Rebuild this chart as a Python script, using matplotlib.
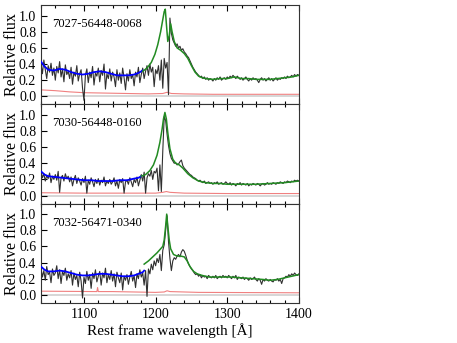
import numpy as np
import matplotlib
matplotlib.use("Agg")
import matplotlib.pyplot as plt
from matplotlib.ticker import MultipleLocator

plt.rcParams['font.family'] = ['Liberation Serif', 'DejaVu Serif']
plt.rcParams['mathtext.fontset'] = 'stix'

# observed spectra, 2 A grid from 1040 to 1400
wave = np.arange(1040, 1401, 2)

names = ["7027-56448-0068", "7030-56448-0160", "7032-56471-0340"]

flux_0068 = [
    0.40, 0.28, 0.45, 0.33, 0.22, 0.38, 0.30, 0.41, 0.26, 0.35,
    0.20, 0.37, 0.29, 0.43, 0.24, 0.34, 0.18, 0.39, 0.27, 0.31,
    0.22, 0.36, 0.15, 0.30, 0.25, 0.38, 0.19, 0.28, 0.33, 0.10,
    -0.05, 0.26, 0.34, 0.17, 0.30, 0.23, 0.37, 0.14, 0.29, 0.25,
    0.35, 0.18, 0.32, 0.26, 0.40, 0.09, 0.28, 0.22, 0.34, 0.19,
    0.30, 0.24, 0.12, 0.33, 0.20, 0.29, 0.16, 0.35, 0.23, 0.08,
    0.28, 0.19, 0.33, 0.22, 0.27, 0.13, 0.30, 0.24, 0.36, 0.17,
    0.27, 0.35, 0.22, 0.31, 0.38, 0.26, 0.40, 0.30, 0.36, 0.12,
    0.33, 0.28, 0.38, 0.20, 0.45, 0.10, 0.47, 0.35, 0.42, 0.02,
    0.97, 0.78, 0.70, 0.66, 0.62, 0.65, 0.60, 0.62, 0.57, 0.59,
    0.55, 0.53, 0.50, 0.48, 0.44, 0.40, 0.36, 0.33, 0.30, 0.28,
    0.26, 0.24, 0.25, 0.22, 0.24, 0.21, 0.23, 0.20, 0.22, 0.21,
    0.19, 0.22, 0.20, 0.23, 0.21, 0.24, 0.20, 0.22, 0.23, 0.21,
    0.24, 0.22, 0.25, 0.23, 0.26, 0.24, 0.22, 0.25, 0.23, 0.21,
    0.23, 0.20, 0.22, 0.24, 0.21, 0.19, 0.22, 0.20, 0.23, 0.21,
    0.22, 0.20, 0.17, 0.21, 0.23, 0.20, 0.22, 0.19, 0.21, 0.23,
    0.20, 0.22, 0.19, 0.21, 0.23, 0.20, 0.22, 0.21, 0.23, 0.22,
    0.24, 0.22, 0.25, 0.23, 0.24, 0.26, 0.24, 0.27, 0.25, 0.27,
    0.26]

flux_0160 = [
    0.30, 0.22, 0.27, 0.18, 0.25, 0.21, 0.28, 0.16, 0.24, 0.20,
    0.26, 0.19, 0.30, 0.04, 0.22, 0.25, 0.18, 0.27, 0.21, 0.24,
    0.17, 0.23, 0.12, 0.20, 0.25, 0.15, 0.22, 0.18, 0.13, 0.21,
    0.16, 0.24, 0.03, 0.19, 0.14, 0.22, 0.17, 0.11, 0.20, 0.15,
    0.21, 0.13, 0.19, 0.16, 0.23, 0.12, 0.18, 0.15, 0.20, 0.14,
    0.17, 0.22, 0.12, 0.18, 0.09, 0.20, 0.16, 0.21, 0.03, 0.17,
    0.19, 0.14, 0.22, 0.17, 0.11, 0.20, 0.16, 0.23, 0.12, 0.19,
    0.26, 0.18, 0.29, 0.03, 0.22, 0.27, 0.24, 0.31, 0.20, 0.30,
    0.28, 0.34, 0.06, 0.38, 0.05, 0.55, 0.98, 0.93, 0.76, 0.62,
    0.52, 0.46, 0.43, 0.40, 0.41, 0.38, 0.39, 0.42, 0.44, 0.37,
    0.34, 0.32, 0.30, 0.28, 0.26, 0.25, 0.23, 0.22, 0.21, 0.19,
    0.18, 0.19, 0.17, 0.16, 0.18, 0.15, 0.16, 0.17, 0.15, 0.16,
    0.14, 0.16, 0.15, 0.17, 0.14, 0.15, 0.16, 0.14, 0.15, 0.17,
    0.15, 0.14, 0.16, 0.13, 0.15, 0.14, 0.12, 0.15, 0.14, 0.16,
    0.13, 0.15, 0.14, 0.13, 0.15, 0.12, 0.14, 0.13, 0.15, 0.14,
    0.13, 0.15, 0.14, 0.12, 0.14, 0.15, 0.13, 0.14, 0.16, 0.14,
    0.15, 0.14, 0.16, 0.15, 0.14, 0.16, 0.15, 0.17, 0.16, 0.15,
    0.17, 0.16, 0.18, 0.17, 0.16, 0.18, 0.17, 0.19, 0.18, 0.19,
    0.18]

flux_0340 = [
    0.33, 0.22, 0.30, 0.18, 0.35, 0.25, 0.28, 0.15, 0.32, 0.24,
    0.27, 0.36, 0.20, 0.31, 0.14, 0.29, 0.24, 0.33, 0.18, 0.26,
    0.21, 0.30, 0.12, 0.27, 0.19, 0.24, 0.10, 0.28, 0.17, -0.04,
    0.22, 0.14, 0.29, 0.18, 0.25, 0.08, 0.27, 0.20, 0.31, 0.16,
    0.23, 0.29, 0.12, 0.27, 0.21, 0.33, 0.15, 0.25, 0.19, 0.30,
    0.17, 0.26, 0.10, 0.28, 0.21, 0.15, 0.27, 0.06, 0.23, 0.18,
    0.25, 0.13, 0.22, 0.29, 0.17, 0.24, 0.09, 0.26, 0.20, 0.31,
    0.22, 0.27, 0.12, 0.30, -0.02, 0.32, 0.26, 0.38, 0.31, 0.42,
    0.36, 0.45, 0.40, 0.50, 0.30, 0.55, 0.62, 0.80, 0.98, 0.66,
    0.45, 0.30, 0.42, 0.46, 0.44, 0.48, 0.50, 0.47, 0.53, 0.56,
    0.54, 0.49, 0.43, 0.38, 0.35, 0.32, 0.30, 0.27, 0.25, 0.26,
    0.23, 0.25, 0.21, 0.24, 0.22, 0.23, 0.20, 0.24, 0.22, 0.21,
    0.23, 0.21, 0.24, 0.20, 0.22, 0.23, 0.21, 0.24, 0.22, 0.23,
    0.21, 0.24, 0.22, 0.20, 0.23, 0.21, 0.24, 0.19, 0.22, 0.21,
    0.20, 0.22, 0.19, 0.21, 0.20, 0.18, 0.21, 0.19, 0.20, 0.22,
    0.19, 0.17, 0.20, 0.18, 0.13, 0.19, 0.17, 0.20, 0.18, 0.17,
    0.19, 0.17, 0.16, 0.19, 0.18, 0.20, 0.17, 0.19, 0.14, 0.20,
    0.21, 0.23, 0.22, 0.25, 0.23, 0.26, 0.24, 0.27, 0.25, 0.24,
    0.26]

# noise spectra
err_wave_0068 = [1040, 1060, 1080, 1100, 1130, 1160, 1190, 1210, 1216, 1222, 1240, 1280, 1320, 1360, 1400]
err_0068 = [0.08, 0.07, 0.055, 0.045, 0.04, 0.035, 0.03, 0.035, 0.05, 0.035, 0.03, 0.025, 0.025, 0.025, 0.025]
err_wave_0160 = [1040, 1100, 1200, 1210, 1215, 1220, 1240, 1300, 1400]
err_0160 = [0.035, 0.03, 0.03, 0.04, 0.05, 0.04, 0.03, 0.025, 0.025]
err_wave_0340 = [1040, 1118, 1119, 1120, 1140, 1200, 1212, 1216, 1220, 1260, 1400]
err_0340 = [0.045, 0.04, 0.09, 0.04, 0.04, 0.03, 0.035, 0.05, 0.04, 0.03, 0.025]

# blue-side continuum fits
cont_wave_0068 = [1040, 1045, 1050, 1058, 1066, 1074, 1082, 1090, 1098, 1106, 1114, 1122, 1130, 1138, 1146, 1154, 1162, 1170, 1176, 1182]
cont_0068 = [0.43, 0.37, 0.33, 0.32, 0.34, 0.33, 0.30, 0.28, 0.27, 0.28, 0.30, 0.31, 0.30, 0.28, 0.26, 0.26, 0.26, 0.27, 0.29, 0.32]
cont_wave_0160 = [1040, 1045, 1050, 1060, 1070, 1080, 1090, 1100, 1110, 1120, 1130, 1140, 1150, 1160, 1170, 1176, 1180]
cont_0160 = [0.30, 0.26, 0.24, 0.23, 0.22, 0.21, 0.20, 0.19, 0.19, 0.18, 0.18, 0.18, 0.19, 0.19, 0.21, 0.22, 0.24]
cont_wave_0340 = [1040, 1045, 1050, 1058, 1066, 1074, 1082, 1090, 1098, 1106, 1114, 1122, 1130, 1138, 1146, 1154, 1162, 1170, 1176, 1182, 1184]
cont_0340 = [0.35, 0.31, 0.29, 0.29, 0.30, 0.29, 0.27, 0.25, 0.24, 0.24, 0.25, 0.26, 0.26, 0.25, 0.24, 0.23, 0.23, 0.24, 0.26, 0.28, 0.30]

# red-side fits
fit_wave_0068 = [1182, 1188, 1194, 1199, 1203, 1207, 1210, 1212, 1213.5, 1215, 1217, 1219, 1221, 1223, 1226, 1230, 1235, 1240,
                 1245, 1250, 1255, 1260, 1265, 1270, 1280, 1290, 1300, 1310, 1320, 1330, 1340, 1350, 1360, 1370, 1380, 1390, 1400]
fit_0068 = [0.31, 0.35, 0.42, 0.52, 0.64, 0.80, 0.95, 1.05, 1.08, 0.90, 0.68, 0.75, 0.90, 0.80, 0.68, 0.60, 0.57, 0.53,
            0.47, 0.38, 0.30, 0.25, 0.23, 0.22, 0.21, 0.22, 0.22, 0.24, 0.22, 0.22, 0.21, 0.21, 0.21, 0.22, 0.23, 0.24, 0.26]
fit_wave_0160 = [1180, 1186, 1192, 1197, 1202, 1206, 1209, 1211, 1213, 1215, 1217, 1220, 1224, 1228, 1233, 1238, 1245,
                 1252, 1260, 1270, 1280, 1290, 1300, 1320, 1340, 1360, 1380, 1400]
fit_0160 = [0.24, 0.26, 0.31, 0.38, 0.50, 0.66, 0.82, 0.95, 1.03, 0.95, 0.78, 0.58, 0.45, 0.40, 0.38, 0.34, 0.27,
            0.22, 0.18, 0.16, 0.15, 0.15, 0.14, 0.14, 0.14, 0.15, 0.16, 0.18]
fit_wave_0340 = [1184, 1190, 1196, 1202, 1207, 1210, 1212, 1214, 1215.5, 1217, 1219, 1221, 1225, 1230, 1235, 1240,
                 1244, 1248, 1253, 1258, 1265, 1275, 1290, 1305, 1320, 1335, 1350, 1360, 1370, 1380, 1390, 1400]
fit_0340 = [0.38, 0.42, 0.47, 0.52, 0.57, 0.60, 0.68, 0.85, 1.00, 0.85, 0.68, 0.57, 0.50, 0.48, 0.48, 0.47,
            0.42, 0.35, 0.29, 0.26, 0.24, 0.22, 0.22, 0.22, 0.21, 0.20, 0.19, 0.18, 0.19, 0.21, 0.23, 0.25]

fluxes = [flux_0068, flux_0160, flux_0340]
errs = [(err_wave_0068, err_0068), (err_wave_0160, err_0160), (err_wave_0340, err_0340)]
conts = [(cont_wave_0068, cont_0068), (cont_wave_0160, cont_0160), (cont_wave_0340, cont_0340)]
fits = [(fit_wave_0068, fit_0068), (fit_wave_0160, fit_0160), (fit_wave_0340, fit_0340)]

fig, axes = plt.subplots(3, 1, sharex=True, figsize=(4.57, 3.43), dpi=100)
fig.subplots_adjust(left=0.0897, right=0.654, top=0.985, bottom=0.117, hspace=0)

for i, ax in enumerate(axes):
    ax.axhline(0.0, color="#d3d3d3", lw=1.3, zorder=1)
    ax.plot(errs[i][0], errs[i][1], color="#f08080", lw=0.8, zorder=2)
    ax.plot(wave, fluxes[i], color="#303030", lw=0.8, zorder=3)
    ax.plot(conts[i][0], conts[i][1], color="#0000ff", lw=1.3, zorder=4)
    ax.plot(fits[i][0], fits[i][1], color="#228b22", lw=1.1, zorder=5)
    ax.text(1055, 0.895, names[i], fontsize=9, ha="left", va="center")

    ax.set_xlim(1040, 1400)
    ax.set_ylim(-0.1, 1.13)
    ax.set_yticks([0.0, 0.2, 0.4, 0.6, 0.8, 1.0])
    ax.xaxis.set_major_locator(MultipleLocator(100))
    ax.xaxis.set_minor_locator(MultipleLocator(20))
    ax.tick_params(axis="both", which="both", direction="in", top=True, labelsize=10)
    ax.tick_params(which="major", length=4, width=0.8)
    ax.tick_params(which="minor", length=2.2, width=0.8)
    ax.set_ylabel("Relative flux", fontsize=11.5, labelpad=-1)
    for s in ax.spines.values():
        s.set_linewidth(0.8)
        s.set_color("#333333")

axes[-1].set_xlabel("Rest frame wavelength [Å]", fontsize=11, labelpad=2)

plt.savefig("out.png", dpi=100)
